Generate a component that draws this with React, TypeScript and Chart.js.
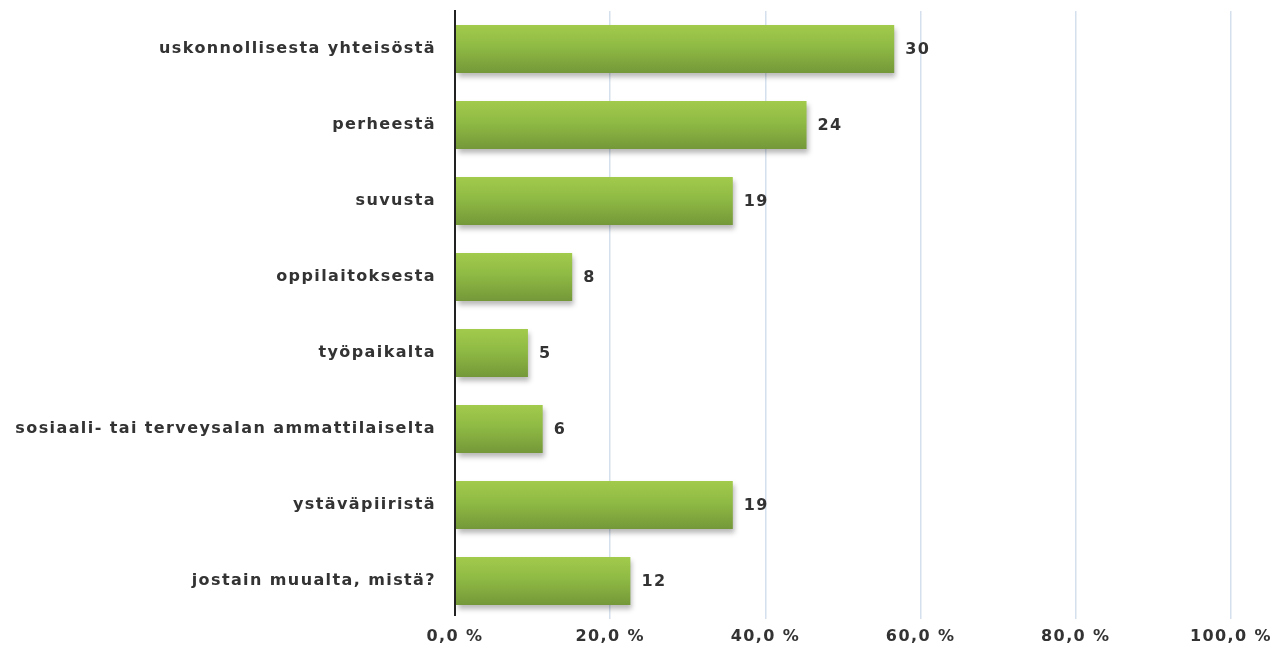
import React, { useEffect, useRef } from "react";
import { Chart, registerables } from "chart.js";

Chart.register(...registerables);

const categories = [
  "uskonnollisesta yhteisöstä",
  "perheestä",
  "suvusta",
  "oppilaitoksesta",
  "työpaikalta",
  "sosiaali- tai terveysalan ammattilaiselta",
  "ystäväpiiristä",
  "jostain muualta, mistä?",
];
const percentValues = [56.6, 45.3, 35.8, 15.1, 9.4, 11.3, 35.8, 22.6];
const countLabels = ["30", "24", "19", "8", "5", "6", "19", "12"];
const xTicks = [0, 20, 40, 60, 80, 100];

const FONT = "'DejaVu Sans', Verdana, sans-serif";
const SPACING = "1.4px";
const TEXT_COLOR = "#333";

export default function App() {
  const ref = useRef<HTMLCanvasElement | null>(null);

  useEffect(() => {
    if (!ref.current) return;
    const barPct = 0.63;

    const spacingPlugin = {
      id: "spacing",
      beforeLayout(chart: any) {
        chart.ctx.letterSpacing = SPACING;
      },
      beforeDraw(chart: any) {
        chart.ctx.letterSpacing = SPACING;
      },
    };

    const shadowPlugin = {
      id: "barShadow",
      beforeDatasetsDraw(chart: any) {
        const ctx = chart.ctx;
        ctx.save();
        ctx.shadowColor = "rgba(0,0,0,0.28)";
        ctx.shadowBlur = 5;
        ctx.shadowOffsetX = 2;
        ctx.shadowOffsetY = 4;
      },
      afterDatasetsDraw(chart: any) {
        chart.ctx.restore();
      },
    };

    const labelPlugin = {
      id: "countLabels",
      afterDatasetsDraw(chart: any) {
        const ctx = chart.ctx;
        const meta = chart.getDatasetMeta(0);
        ctx.save();
        ctx.letterSpacing = SPACING;
        ctx.font = `bold 16px ${FONT}`;
        ctx.fillStyle = TEXT_COLOR;
        ctx.textAlign = "left";
        ctx.textBaseline = "middle";
        meta.data.forEach((bar: any, i: number) => {
          ctx.fillText(countLabels[i], bar.x + 11, bar.y + 1);
        });
        ctx.restore();
      },
    };

    const axisLinePlugin = {
      id: "axisLine",
      afterDatasetsDraw(chart: any) {
        const ctx = chart.ctx;
        const { top, bottom, left } = chart.chartArea;
        ctx.save();
        ctx.strokeStyle = "#222";
        ctx.lineWidth = 2;
        ctx.beginPath();
        ctx.moveTo(left, top - 1);
        ctx.lineTo(left, bottom - 3);
        ctx.stroke();
        ctx.restore();
      },
    };

    const chart = new Chart(ref.current, {
      type: "bar",
      data: {
        labels: categories,
        datasets: [
          {
            data: percentValues,
            backgroundColor: (c: any) => {
              const ch = c.chart;
              const area = ch.chartArea;
              if (!area || !ch.scales.y) return "#8cb545";
              const y = ch.scales.y.getPixelForValue(c.dataIndex);
              const h = (area.height / categories.length) * barPct;
              const g = ch.ctx.createLinearGradient(0, y - h / 2, 0, y + h / 2);
              g.addColorStop(0, "#a2cb4c");
              g.addColorStop(0.45, "#8fba44");
              g.addColorStop(1, "#749839");
              return g;
            },
            borderWidth: 0,
            categoryPercentage: 1,
            barPercentage: barPct,
          },
        ],
      },
      options: {
        indexAxis: "y",
        animation: false,
        responsive: true,
        maintainAspectRatio: false,
        layout: { padding: { top: 11, right: 52, bottom: 0, left: 0 } },
        plugins: {
          legend: { display: false },
          tooltip: { enabled: false },
        },
        scales: {
          x: {
            min: 0,
            max: 100,
            afterBuildTicks: (s: any) => {
              s.ticks = xTicks.map((v) => ({ value: v }));
            },
            afterFit: (s: any) => {
              s.height = 31;
              s.paddingLeft = 0;
              s.paddingRight = 0;
            },
            grid: {
              color: (c: any) => (c.tick && c.tick.value === 0 ? "rgba(0,0,0,0)" : "#d5e0ee"),
              lineWidth: 1.5,
              drawTicks: false,
            },
            border: { display: false },
            ticks: {
              padding: 8,
              color: TEXT_COLOR,
              font: { family: FONT, size: 16, weight: "bold" },
              callback: (v: any) => Number(v).toFixed(1).replace(".", ",") + " %",
              maxRotation: 0,
            },
          },
          y: {
            afterFit: (s: any) => {
              s.width = 455;
              s.paddingTop = 0;
              s.paddingBottom = 0;
            },
            grid: { display: false, drawTicks: false },
            border: { display: false },
            ticks: {
              padding: 19,
              color: TEXT_COLOR,
              font: { family: FONT, size: 16, weight: "bold" },
            },
          },
        },
      },
      plugins: [spacingPlugin, shadowPlugin, labelPlugin, axisLinePlugin],
    } as any);

    return () => chart.destroy();
  }, []);

  return (
    <div style={{ position: "fixed", left: 0, top: 0, width: 1283, height: 650, background: "#fff" }}>
      <canvas ref={ref} />
    </div>
  );
}
